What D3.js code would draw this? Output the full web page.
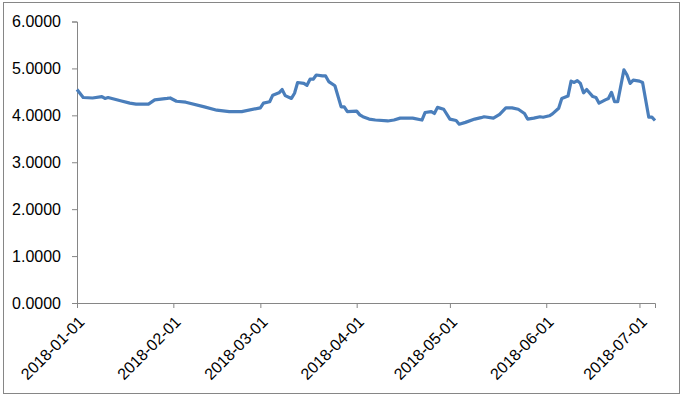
<!DOCTYPE html>
<html>
<head>
<meta charset="utf-8">
<script src="https://d3js.org/d3.v7.min.js"></script>
<style>
  body { margin: 0; background: #fff; }
  text { font-family: "Liberation Sans", Arial, sans-serif; font-size: 16px; fill: #000; }
</style>
</head>
<body>
<div id="chart"></div>
<script>
// dates and values
const dates = [
  "2018-01-01","2018-01-03","2018-01-06","2018-01-09","2018-01-10","2018-01-11","2018-01-15","2018-01-18",
  "2018-01-20","2018-01-24","2018-01-26","2018-01-30","2018-01-31","2018-02-02","2018-02-05","2018-02-11",
  "2018-02-15","2018-02-19","2018-02-23","2018-03-01","2018-03-02","2018-03-04","2018-03-05","2018-03-07",
  "2018-03-08","2018-03-09","2018-03-11","2018-03-12","2018-03-13","2018-03-15","2018-03-16","2018-03-17",
  "2018-03-18","2018-03-19","2018-03-21","2018-03-22","2018-03-23","2018-03-25","2018-03-27","2018-03-28",
  "2018-03-29","2018-04-01","2018-04-02","2018-04-03","2018-04-05","2018-04-07","2018-04-11","2018-04-13",
  "2018-04-15","2018-04-19","2018-04-22","2018-04-23","2018-04-25","2018-04-26","2018-04-27","2018-04-29",
  "2018-05-01","2018-05-03","2018-05-04","2018-05-06","2018-05-09","2018-05-11","2018-05-12","2018-05-15",
  "2018-05-17","2018-05-19","2018-05-21","2018-05-23","2018-05-25","2018-05-26","2018-05-28","2018-05-30",
  "2018-05-31","2018-06-02","2018-06-03","2018-06-05","2018-06-06","2018-06-08","2018-06-09","2018-06-10",
  "2018-06-11","2018-06-12","2018-06-13","2018-06-14","2018-06-16","2018-06-17","2018-06-18","2018-06-20",
  "2018-06-21","2018-06-22","2018-06-23","2018-06-24","2018-06-26","2018-06-27","2018-06-28","2018-06-29",
  "2018-07-01","2018-07-02","2018-07-04","2018-07-05","2018-07-06"
];
const values = [
  4.55,4.38,4.37,4.40,4.36,4.38,4.31,4.26,
  4.24,4.24,4.33,4.36,4.37,4.30,4.28,4.18,
  4.11,4.08,4.08,4.16,4.26,4.29,4.43,4.48,
  4.55,4.42,4.36,4.47,4.70,4.68,4.64,4.77,
  4.77,4.86,4.84,4.84,4.72,4.63,4.18,4.18,
  4.08,4.09,4.01,3.97,3.92,3.90,3.88,3.90,
  3.94,3.94,3.90,4.06,4.08,4.04,4.17,4.13,
  3.92,3.89,3.81,3.85,3.92,3.95,3.97,3.94,
  4.02,4.16,4.16,4.13,4.04,3.92,3.94,3.97,
  3.96,3.99,4.03,4.15,4.36,4.41,4.73,4.70,
  4.74,4.68,4.48,4.55,4.40,4.38,4.26,4.33,
  4.36,4.49,4.29,4.29,4.97,4.86,4.68,4.75,
  4.73,4.70,3.96,3.96,3.89
];
const xTicks = ["2018-01-01","2018-02-01","2018-03-01","2018-04-01","2018-05-01","2018-06-01","2018-07-01"];
const yTicks = [0, 1, 2, 3, 4, 5, 6];

const width = 684, height = 397;
const margin = { top: 21.5, right: 29, bottom: 94, left: 77 };
const parse = d3.timeParse("%Y-%m-%d");
const data = dates.map((d, i) => ({ date: parse(d), value: values[i] }));

const svg = d3.select("#chart").append("svg")
  .attr("width", width)
  .attr("height", height);

// chart frame
svg.append("rect")
  .attr("x", 3.5).attr("y", 2.5)
  .attr("width", 676).attr("height", 391)
  .attr("fill", "none").attr("stroke", "#868686");

const x = d3.scaleTime()
  .domain([parse("2018-01-01"), parse("2018-07-06")])
  .range([margin.left, width - margin.right]);

const y = d3.scaleLinear()
  .domain([0, 6])
  .range([height - margin.bottom, margin.top]);

// y axis
svg.append("g")
  .attr("transform", `translate(${margin.left},0)`)
  .call(d3.axisLeft(y).tickValues(yTicks).tickFormat(d3.format(".4f")).tickSize(5).tickPadding(11));

// x axis
const xAxis = svg.append("g")
  .attr("transform", `translate(0,${height - margin.bottom})`)
  .call(d3.axisBottom(x).tickValues(xTicks.map(parse)).tickFormat(d3.timeFormat("%Y-%m-%d")).tickSize(5));

xAxis.selectAll("text")
  .attr("text-anchor", "end")
  .attr("dy", "0.35em")
  .attr("transform", "translate(4,16) rotate(-45)")
  .attr("x", 0).attr("y", 0);

svg.selectAll(".domain, .tick line").attr("stroke", "#868686");
svg.selectAll(".tick text").attr("fill", "#000").style("font-size", "16px")
  .style("font-family", "'Liberation Sans', Arial, sans-serif");

// line
const line = d3.line()
  .x(d => x(d.date))
  .y(d => y(d.value));

svg.append("path")
  .datum(data)
  .attr("fill", "none")
  .attr("stroke", "#4a7ebb")
  .attr("stroke-width", 3.2)
  .attr("stroke-linejoin", "round")
  .attr("d", line);
</script>
</body>
</html>
